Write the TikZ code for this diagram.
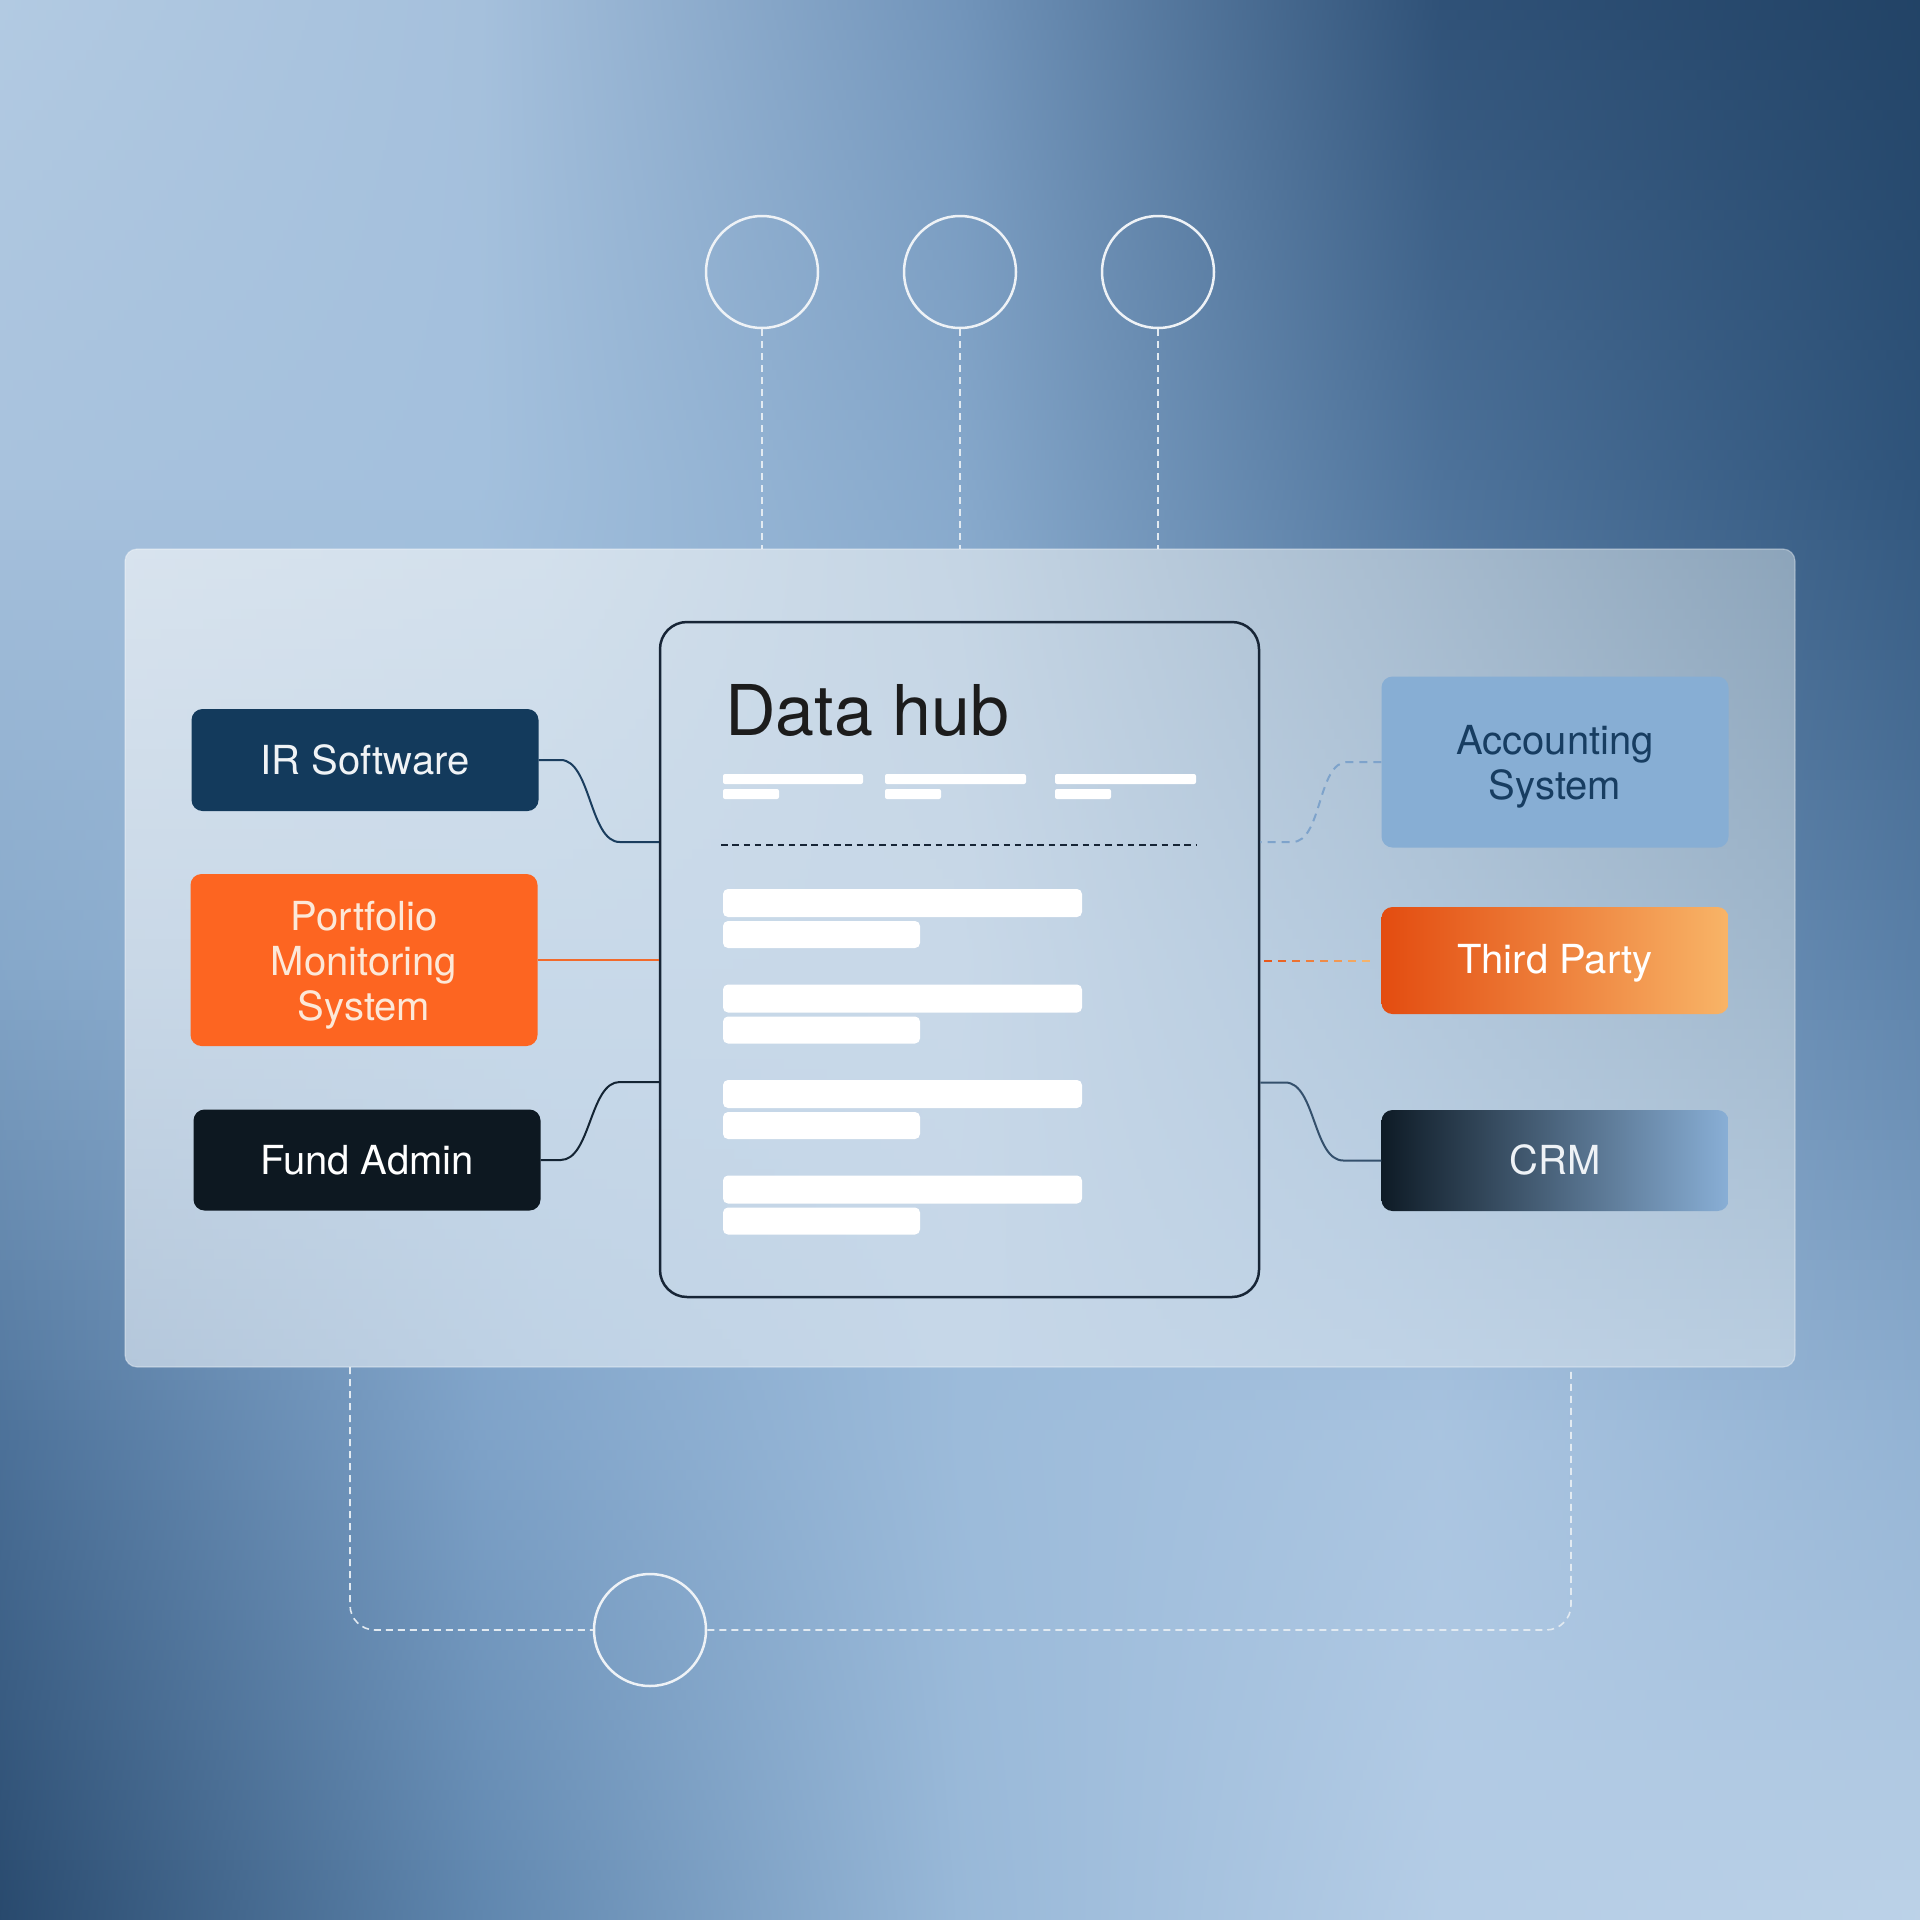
\documentclass[tikz,border=0pt]{standalone}
\usepackage{fontspec}
\setmainfont{TeX Gyre Heros}
\usetikzlibrary{calc}

% background grid colours (rows y=0,480,960,1440,1920; cols x=0,480,960,1440,1920)
\definecolor{r0c0}{HTML}{B2CAE2}\definecolor{r0c1}{HTML}{A5C0DC}\definecolor{r0c2}{HTML}{7194BA}\definecolor{r0c3}{HTML}{2F5177}\definecolor{r0c4}{HTML}{224366}
\definecolor{r1c0}{HTML}{A8C2DD}\definecolor{r1c1}{HTML}{A3C0DD}\definecolor{r1c2}{HTML}{86A8CB}\definecolor{r1c3}{HTML}{4E739B}\definecolor{r1c4}{HTML}{2F547B}
\definecolor{r2c0}{HTML}{86A8CA}\definecolor{r2c1}{HTML}{96B6D6}\definecolor{r2c2}{HTML}{9ABAD9}\definecolor{r2c3}{HTML}{7DA0C5}\definecolor{r2c4}{HTML}{5A80A8}
\definecolor{r3c0}{HTML}{4C7199}\definecolor{r3c1}{HTML}{7EA2C8}\definecolor{r3c2}{HTML}{9CBBDA}\definecolor{r3c3}{HTML}{A9C4E0}\definecolor{r3c4}{HTML}{93B3D4}
\definecolor{r4c0}{HTML}{28496D}\definecolor{r4c1}{HTML}{5F86AE}\definecolor{r4c2}{HTML}{98B8D8}\definecolor{r4c3}{HTML}{B5CDE6}\definecolor{r4c4}{HTML}{BCD2E8}
% panel colours (rows top, mid, bottom)
\definecolor{p0c0}{HTML}{D8E3EE}\definecolor{p0c1}{HTML}{D3E0EC}\definecolor{p0c2}{HTML}{C5D5E4}\definecolor{p0c3}{HTML}{A9BDD0}\definecolor{p0c4}{HTML}{8CA4BA}
\definecolor{p1c0}{HTML}{C9D8E7}\definecolor{p1c1}{HTML}{C8D9E9}\definecolor{p1c2}{HTML}{C8D8E8}\definecolor{p1c3}{HTML}{B4C9DD}\definecolor{p1c4}{HTML}{A0B7CC}
\definecolor{p2c0}{HTML}{B4C7DB}\definecolor{p2c1}{HTML}{BFD2E5}\definecolor{p2c2}{HTML}{C6D7E8}\definecolor{p2c3}{HTML}{C0D3E6}\definecolor{p2c4}{HTML}{B9CDE0}

\definecolor{irfill}{HTML}{133A5C}
\definecolor{irtext}{HTML}{F0F3F6}
\definecolor{pmsfill}{HTML}{FD6521}
\definecolor{pmstext}{HTML}{FCE8D8}
\definecolor{fundfill}{HTML}{0D1821}
\definecolor{accfill}{HTML}{87AED4}
\definecolor{acctext}{HTML}{173D61}
\definecolor{tpL}{HTML}{E34C10}
\definecolor{tpR}{HTML}{F8B467}
\definecolor{crmL}{HTML}{0E1B26}
\definecolor{crmR}{HTML}{89AFD6}
\definecolor{crmtext}{HTML}{EEF2F6}
\definecolor{hubline}{HTML}{172536}
\definecolor{hubtext}{HTML}{1C1C1C}
\definecolor{irline}{HTML}{1A3D5E}
\definecolor{fundline}{HTML}{142433}
\definecolor{pmsline}{HTML}{F26B2C}
\definecolor{accline}{HTML}{7EA3CB}
\definecolor{crmline}{HTML}{34506C}
\definecolor{tpdA}{HTML}{E8571A}
\definecolor{tpdB}{HTML}{F5B36B}
\definecolor{ringcol}{HTML}{EEF2F6}
\definecolor{wdashcol}{HTML}{E2EAF1}

\tikzset{
  sbox/.style={rounded corners=11pt, minimum width=347pt, inner sep=0pt},
  lbl/.style={anchor=base, align=center, inner sep=0pt, font=\fontsize{40}{45}\selectfont},
  ring/.style={circle, draw=ringcol, line width=2.5pt, minimum size=112pt, inner sep=0pt},
  wdash/.style={draw=wdashcol, line width=1.6pt, dash pattern=on 7pt off 5pt},
  whitebar/.style={fill=white, rounded corners=2pt},
  rowbar/.style={fill=white, rounded corners=5pt},
  link/.style={line width=2pt}
}

\begin{document}
\begin{tikzpicture}[x=1pt,y=-1pt]
\useasboundingbox (0,0) rectangle (1920,1920);

% ---------- background ----------
\foreach \i in {0,...,191}{
  \pgfmathsetmacro\yc{(\i+0.5)*10}
  \pgfmathtruncatemacro\k{min(3,floor(\yc/480))}
  \pgfmathtruncatemacro\kk{\k+1}
  \pgfmathtruncatemacro\p{round((\yc-480*\k)/4.8)}
  \colorlet{c0}{r\kk c0!\p!r\k c0}
  \colorlet{c1}{r\kk c1!\p!r\k c1}
  \colorlet{c2}{r\kk c2!\p!r\k c2}
  \colorlet{c3}{r\kk c3!\p!r\k c3}
  \colorlet{c4}{r\kk c4!\p!r\k c4}
  \pgfdeclarehorizontalshading{bgs\i}{100bp}{color(0bp)=(c0); color(25bp)=(c0); color(37.5bp)=(c1); color(50bp)=(c2); color(62.5bp)=(c3); color(75bp)=(c4); color(100bp)=(c4)}
  \shade[shading=bgs\i] (0,\i*10) rectangle (1920,\i*10+11);
}

% ---------- top rings and dashed drops ----------
\coordinate (ptop) at (960,549);
\node[ring] (c1) at (762,272) {};
\node[ring] (c2) at (960,272) {};
\node[ring] (c3) at (1158,272) {};
\draw[wdash] (c1.south) -- (c1.south |- ptop);
\draw[wdash] (c2.south) -- (c2.south |- ptop);
\draw[wdash] (c3.south) -- (c3.south |- ptop);

% ---------- bottom ring and dashed loop ----------
\node[ring] (c4) at (650,1630) {};
\coordinate (pbl) at (350,1367);
\coordinate (pbr) at (1571,1367);
\draw[wdash, rounded corners=25pt] (pbl) |- (c4.west);
\draw[wdash, rounded corners=25pt] (c4.east) -| (pbr);

% ---------- panel ----------
\begin{scope}
\clip[rounded corners=12pt] (125,549) rectangle (1795,1367);
\foreach \i in {0,...,81}{
  \pgfmathsetmacro\yc{(\i+0.5)*10}
  \pgfmathtruncatemacro\k{min(1,floor(\yc/409))}
  \pgfmathtruncatemacro\kk{\k+1}
  \pgfmathtruncatemacro\p{min(100,round((\yc-409*\k)/4.09))}
  \colorlet{c0}{p\kk c0!\p!p\k c0}
  \colorlet{c1}{p\kk c1!\p!p\k c1}
  \colorlet{c2}{p\kk c2!\p!p\k c2}
  \colorlet{c3}{p\kk c3!\p!p\k c3}
  \colorlet{c4}{p\kk c4!\p!p\k c4}
  \pgfdeclarehorizontalshading{pns\i}{100bp}{color(0bp)=(c0); color(25bp)=(c0); color(37.5bp)=(c1); color(50bp)=(c2); color(62.5bp)=(c3); color(75bp)=(c4); color(100bp)=(c4)}
  \shade[shading=pns\i] (125,549+\i*10) rectangle (1795,549+\i*10+11);
}
\end{scope}
\draw[white, opacity=0.35, line width=1.2pt, rounded corners=12pt] (125,549) rectangle (1795,1367);

% ---------- hub ----------
\node[draw=hubline, line width=2.5pt, rounded corners=27pt, minimum width=599pt, minimum height=675pt, inner sep=0pt] (hub) at (959.5,959.5) {};
\node[anchor=base west, inner sep=0pt, text=hubtext, font=\fontsize{70}{80}\selectfont] (title) at (725,735) {Data hub};

\fill[whitebar] (723,774) rectangle (863,784);
\fill[whitebar] (723,789) rectangle (779,799);
\fill[whitebar] (885,774) rectangle (1026,784);
\fill[whitebar] (885,789) rectangle (941,799);
\fill[whitebar] (1055,774) rectangle (1196,784);
\fill[whitebar] (1055,789) rectangle (1111,799);
\draw[hubline, line width=1.5pt, dash pattern=on 6.5pt off 4.8pt] (721,845) -- (1196,845);
\foreach \j in {0,1,2,3}{
  \fill[rowbar] (723,889+95.5*\j) rectangle (1082,917+95.5*\j);
  \fill[rowbar] (723,921+95.5*\j) rectangle (920,948+95.5*\j);
}

% ---------- side boxes ----------
\node[sbox, fill=irfill, minimum height=102pt] (ir) at (365,760) {};
\node[lbl, text=irtext] at ($(ir.center)+(0,14)$) {IR Software};
\node[sbox, fill=pmsfill, minimum height=172pt] (pms) at (364,960) {};
\node[lbl, text=pmstext] at ($(pms.center)+(0,60.5)$) {Portfolio\\Monitoring\\System};
\node[sbox, fill=fundfill, minimum height=101pt] (fund) at (367,1160) {};
\node[lbl, text=white] at ($(fund.center)+(0,14)$) {Fund Admin};

\node[sbox, fill=accfill, minimum height=171pt] (acc) at (1555,762) {};
\node[lbl, text=acctext] at ($(acc.center)+(0,37)$) {Accounting\\System};
\node[sbox, left color=tpL, right color=tpR, minimum height=107pt] (tp) at (1555,960.5) {};
\node[lbl, text=white] at ($(tp.center)+(0,13)$) {Third Party};
\node[sbox, left color=crmL, right color=crmR, minimum height=101pt] (crm) at (1555,1160.5) {};
\node[lbl, text=crmtext] at ($(crm.center)+(0,14)$) {CRM};

% ---------- connectors ----------
\draw[link, irline] (ir.east) -- ++(22,0) .. controls +(30,0) and +(-30,0) .. ++(59,82) coordinate (irk) -- (irk -| hub.west);
\draw[link, pmsline] (pms.east) -- (pms.east -| hub.west);
\draw[link, fundline] (fund.east) -- ++(20,0) .. controls +(30,0) and +(-30,0) .. ++(59,-78) coordinate (fk) -- (fk -| hub.west);
\draw[link, accline, dash pattern=on 8pt off 6pt] (acc.west) -- ++(-34,0) .. controls +(-30,0) and +(30,0) .. ++(-55,80) coordinate (ak) -- (ak -| hub.east);
\draw[link, crmline] (crm.west) -- ++(-38,0) .. controls +(-30,0) and +(30,0) .. ++(-58,-78) coordinate (ck) -- (ck -| hub.east);
\coordinate (tps) at ($(hub.east |- tp.west)+(4,0)$);
\foreach \i in {0,...,7}{
  \pgfmathtruncatemacro\p{round(100*\i/7)}
  \draw[link, tpdB!\p!tpdA] ($(tps)+(14*\i,0)$) -- ++(8,0);
}
\end{tikzpicture}
\end{document}
